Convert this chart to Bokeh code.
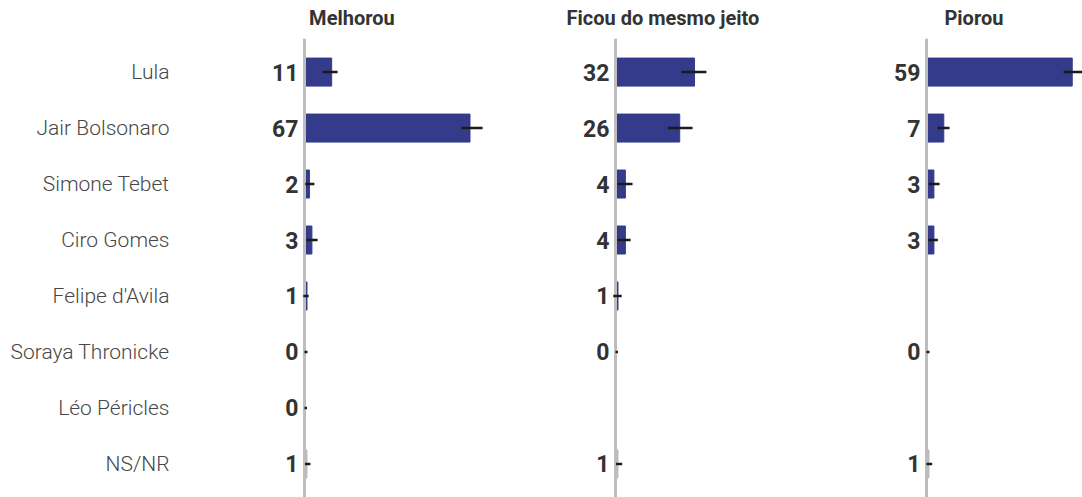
from bokeh.plotting import figure
from bokeh.layouts import row, column
from bokeh.models import ColumnDataSource, FactorRange, Range1d
from bokeh.core.properties import value
from bokeh.embed import file_html
from bokeh.resources import INLINE

# Data
candidates = ["Lula", "Jair Bolsonaro", "Simone Tebet", "Ciro Gomes",
              "Felipe d'Avila", "Soraya Thronicke", "Léo Péricles", "NS/NR"]
panels = ["Melhorou", "Ficou do mesmo jeito", "Piorou"]

melhorou = [11, 67, 2, 3, 1, 0, 0, 1]
melhorou_lo = [7.3, 63.6, 0.3, 0.8, -0.5, 0.0, 0.0, 0.2]
melhorou_hi = [13.4, 72.1, 4.0, 5.3, 1.7, 1.2, 1.0, 2.4]

ficou = [32, 26, 4, 4, 1, 0, None, 1]
ficou_lo = [26.7, 21.1, 0.8, 0.8, -0.9, 0.0, None, 0.2]
ficou_hi = [36.8, 31.2, 6.9, 6.1, 2.5, 1.0, None, 2.7]

piorou = [59, 7, 3, 3, None, 0, None, 1]
piorou_lo = [55.5, 4.5, 0.9, 0.7, None, 0.0, None, 0.0]
piorou_hi = [63.2, 9.3, 5.3, 4.6, None, 1.2, None, 2.3]

BAR = "#343b8b"
NSNR = "#bbbbbb"
AXIS_GREY = "#bdbdbd"
INK = "#333333"

PX_PER_UNIT = 2.47      # horizontal scale shared by all panels
ZERO_OFFSET = 50        # px from panel frame left edge to the zero line
HEADER_H = 38
FRAME_H = 459
LEFT = 254
frame_widths = [311, 311, 206]
TITLE_X = 19.2          # header centre, in value units right of zero

y_range = FactorRange(factors=list(reversed(candidates)),
                      range_padding=0.1, range_padding_units="absolute")

series = [(melhorou, melhorou_lo, melhorou_hi),
          (ficou, ficou_lo, ficou_hi),
          (piorou, piorou_lo, piorou_hi)]


def bare(p):
    p.outline_line_color = None
    p.xgrid.visible = False
    p.ygrid.visible = False
    p.background_fill_color = "white"
    p.border_fill_color = "white"


headers, figs = [], []
for i, (name, (vals, lo, hi), fw) in enumerate(zip(panels, series, frame_widths)):
    rows = [k for k, v in enumerate(vals) if v is not None]
    src = ColumnDataSource(dict(
        cand=[candidates[k] for k in rows],
        val=[vals[k] for k in rows],
        lo=[lo[k] for k in rows],
        hi=[hi[k] for k in rows],
        label=[str(vals[k]) for k in rows],
        color=[NSNR if candidates[k] == "NS/NR" else BAR for k in rows],
    ))

    x_range = Range1d(-ZERO_OFFSET / PX_PER_UNIT, (fw - ZERO_OFFSET) / PX_PER_UNIT)

    # facet header strip
    h = figure(x_range=x_range, y_range=Range1d(0, 1),
               frame_width=fw, frame_height=HEADER_H,
               output_backend="svg", toolbar_location=None,
               x_axis_location=None, y_axis_location=None,
               min_border_left=LEFT if i == 0 else 0,
               min_border_right=0, min_border_top=0, min_border_bottom=0)
    bare(h)
    h.text(x=[TITLE_X], y=[0.55], text=[name], text_align="center",
           text_baseline="middle", text_font=value("Roboto"),
           text_font_style="bold", text_font_size="20px", text_color=INK)
    headers.append(h)

    p = figure(y_range=y_range, x_range=x_range,
               frame_width=fw, frame_height=FRAME_H,
               output_backend="svg", toolbar_location=None,
               x_axis_location=None,
               y_axis_location="left" if i == 0 else None,
               min_border_left=LEFT if i == 0 else 0,
               min_border_right=0, min_border_top=0, min_border_bottom=0)
    bare(p)

    if i == 0:
        ax = p.yaxis[0]
        ax.axis_line_color = None
        ax.major_tick_line_color = None
        ax.minor_tick_line_color = None
        ax.major_tick_out = 0
        ax.major_tick_in = 0
        ax.major_label_standoff = 85
        ax.major_label_text_font = "Roboto Light, Roboto"
        ax.major_label_text_font_size = "21px"
        ax.major_label_text_color = "#474747"
        ax.major_label_text_font_style = "normal"

    p.hbar(y="cand", left=0, right="val", height=0.5, color="color", source=src)
    p.vspan(x=[0], line_color=AXIS_GREY, line_width=3)
    p.segment(x0="lo", y0="cand", x1="hi", y1="cand", line_color="#1a1a1a",
              line_width=2.5, source=src)
    p.text(x=0, y="cand", text="label", source=src, x_offset=-6,
           text_align="right", text_baseline="middle",
           text_font=value("Roboto"), text_font_style="bold",
           text_font_size="23px", text_color=INK)
    figs.append(p)

layout = column(row(*headers, spacing=0), row(*figs, spacing=0), spacing=0)
open("out.html", "w").write(file_html(layout, INLINE))
